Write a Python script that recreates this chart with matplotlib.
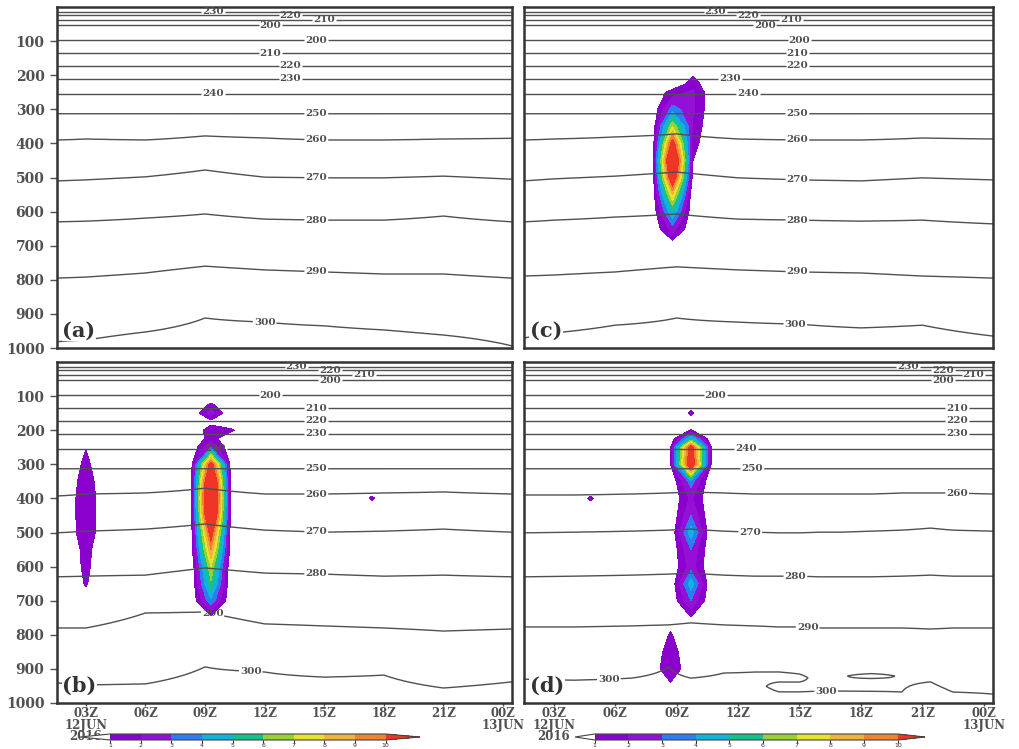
import numpy as np
import matplotlib
matplotlib.use("Agg")
import matplotlib.pyplot as plt
from matplotlib.colors import ListedColormap, BoundaryNorm
import matplotlib.cm as cm

# ---------------- axes / ticks ----------------
XLIM = (1.55, 24.45)
XTICKS = [3, 6, 9, 12, 15, 18, 21, 24]
XTICKLABELS = ["03Z\n12JUN\n2016", "06Z", "09Z", "12Z", "15Z", "18Z", "21Z", "00Z\n13JUN"]
YTICKS = [100, 200, 300, 400, 500, 600, 700, 800, 900, 1000]
YTICKLABELS = ["100", "200", "300", "400", "500", "600", "700", "800", "900", "1000"]

# ---------------- temperature (isotherm pressures, hPa) ----------------
CONTOUR_LEVELS = [200, 210, 220, 230, 240, 250, 260, 270, 280, 290, 300]
T_UP = [236, 230, 220, 210, 200, 195, 200, 210, 220, 230, 240, 250]
P_UP = [0, 14, 24, 38, 53, 75, 97, 135, 173, 211, 254, 313]
LOW_LEVELS = [260, 270, 280, 290, 300]
T_SFC = 303

TIMES_ABC = [1.55, 3, 6, 9, 12, 15, 18, 21, 24.45]

A_P260 = [390, 387, 390, 378, 384, 390, 390, 387, 385]
A_P270 = [510, 507, 498, 478, 499, 501, 501, 496, 505]
A_P280 = [630, 628, 619, 607, 622, 625, 625, 613, 630]
A_P290 = [795, 792, 780, 760, 771, 777, 783, 783, 795]
A_P300 = [982, 977, 953, 912, 924, 935, 947, 962, 994]

B_P260 = [393, 387, 384, 370, 387, 387, 384, 381, 387]
B_P270 = [501, 496, 490, 475, 493, 499, 496, 490, 499]
B_P280 = [630, 628, 625, 604, 619, 622, 628, 625, 630]
B_P290 = [780, 780, 736, 733, 768, 774, 780, 789, 783]
B_P300 = [941, 947, 944, 894, 909, 924, 918, 956, 938]

C_P260 = [390, 387, 381, 372, 387, 390, 390, 384, 387]
C_P270 = [510, 504, 496, 484, 501, 507, 510, 501, 507]
C_P280 = [630, 625, 616, 607, 622, 625, 628, 625, 636]
C_P290 = [789, 786, 777, 762, 771, 777, 780, 789, 795]
C_P300 = [971, 956, 933, 912, 924, 930, 941, 933, 965]

TIMES_D = [1.55, 4, 6.8, 8.6, 9.7, 11.3, 12.8, 14.0, 15.0, 16.0, 17.0, 18.5, 20.0, 21.4, 22.5, 24.45]
D_P260 = [390, 390, 387, 384, 381, 384, 387, 387, 387, 387, 387, 387, 384, 384, 384, 387]
D_P270 = [501, 499, 496, 493, 490, 496, 499, 501, 501, 499, 499, 496, 493, 487, 493, 496]
D_P280 = [630, 628, 625, 622, 619, 625, 628, 628, 628, 630, 630, 630, 628, 625, 628, 628]
D_P290 = [777, 777, 774, 771, 765, 771, 774, 777, 777, 780, 780, 780, 780, 783, 780, 780]
D_P300 = [930, 933, 927, 894, 927, 912, 909, 909, 915, 965, 965, 966, 968, 938, 968, 974]
# near-surface inversion points (column index -> (p, T) pairs)
D_EXTRA = {
    7: [(926, 301.5), (951, 298.5)],
    8: [(926, 301.5), (951, 298.5)],
    10: [(921, 299.4)],
    11: [(912, 299.5), (921, 302.0), (930, 299.5), (955, 299.7)],
    12: [(921, 299.4)],
}

# ---------------- shaded field (columns: time -> {p: value}) ----------------
SHADE_LEVELS = [1, 2, 3, 4, 5, 6, 7, 8, 9, 10]
SHADE_COLORS = ["#8a00cc", "#9410d6", "#2a7ff0", "#12b2e0", "#14c28a",
                "#96d232", "#e6e22e", "#f2b23c", "#f2822c"]
SHADE_OVER = "#ee3526"
P_SH = [0, 100, 125, 150, 175, 200, 225, 250, 300, 350, 400, 450, 500,
        550, 600, 650, 700, 750, 800, 850, 900, 950, 1000]

B_COLS = {
    3.0: {250: 0.95, 300: 1.3, 350: 1.7, 400: 2.0, 450: 2.0, 500: 1.9, 550: 1.4,
          600: 1.3, 650: 1.1, 700: 0.5},
    8.3: {300: 0.5, 350: 0.6, 400: 0.6, 450: 0.6, 500: 0.5, 550: 0.4},
    9.3: {125: 1.2, 150: 2.5, 175: 0.6, 200: 1.6, 225: 1.5, 250: 3, 300: 11, 350: 14,
          400: 15, 450: 14, 500: 11, 550: 9, 600: 7, 650: 5.8, 700: 3.8, 750: 0.6},
    10.3: {200: 1.2, 300: 0.5, 350: 0.6, 400: 0.6, 450: 0.6, 500: 0.5, 550: 0.4},
    17.4: {400: 1.15},
}
C_COLS = {
    8.8: {250: 1.5, 300: 3.5, 350: 7, 400: 11, 450: 14, 500: 12, 550: 8, 600: 5,
          650: 2.5, 700: 0.3},
    9.8: {200: 0.9, 225: 1.5, 250: 2.2, 300: 2.2, 350: 1.8, 400: 1.4, 450: 1.0, 500: 0.5},
}
D_COLS = {
    4.8: {400: 1.15},
    8.7: {250: 0.98, 300: 0.9, 750: 0.5, 800: 1.1, 850: 1.6, 900: 2.0, 950: 0.7},
    9.7: {125: 0.6, 150: 1.15, 175: 0.5, 200: 1.05, 225: 5, 250: 11, 300: 12, 350: 3.5,
          400: 2.2, 450: 3, 500: 4.6, 550: 3, 600: 2.5, 650: 4.6, 700: 3, 750: 0.9},
    10.7: {250: 0.98, 300: 0.9},
}

# ---------------- contour label anchor positions (time, p) ----------------
LAB_A = [(9.4, 14), (13.3, 24), (15.0, 38), (12.3, 53), (14.6, 97), (12.3, 135),
         (13.3, 173), (13.3, 211), (9.4, 254), (14.6, 313), (14.6, 388), (14.6, 500),
         (14.6, 622), (14.6, 776), (12.0, 924)]
LAB_B = [(13.6, 14), (15.3, 24), (17.0, 38), (15.3, 53), (12.3, 97), (14.6, 135),
         (14.6, 173), (14.6, 211), (9.5, 254), (14.6, 313), (14.6, 387), (14.6, 497),
         (14.6, 621), (9.4, 733), (11.3, 905)]
LAB_C = [(10.9, 14), (12.5, 24), (14.6, 38), (13.3, 53), (15.0, 97), (14.9, 135),
         (14.9, 173), (11.6, 211), (12.5, 254), (14.9, 313), (14.9, 389), (14.9, 505),
         (14.9, 624), (14.9, 776), (14.8, 928)]
LAB_D = [(20.3, 14), (22.0, 24), (23.5, 38), (22.0, 53), (10.9, 97), (22.7, 135),
         (22.7, 173), (22.7, 211), (12.4, 254), (12.7, 313), (22.7, 385), (12.6, 497),
         (14.8, 628), (15.4, 777), (5.7, 935), (16.3, 965)]

SERIF = "DejaVu Serif"
GREY = "#505050"
P_GRID = np.linspace(0, 1000, 801)


def temp_field(times, lows, extra=None):
    T = np.empty((len(P_GRID), len(times)))
    for i in range(len(times)):
        pairs = list(zip(P_UP, T_UP))
        pairs += [(arr[i], lev) for lev, arr in zip(LOW_LEVELS, lows)]
        if extra and i in extra:
            pairs += extra[i]
        pairs.append((1000.0, T_SFC))
        pairs.sort()
        xp, fp = zip(*pairs)
        T[:, i] = np.interp(P_GRID, xp, fp)
    return T


def shade_field(cols):
    ts = {XLIM[0], XLIM[1]}
    for tc in cols:
        ts.update([round(tc - 1, 2), round(tc, 2), round(tc + 1, 2)])
    ts = sorted(ts)
    Z = np.zeros((len(P_SH), len(ts)))
    for j, t in enumerate(ts):
        for tc, prof in cols.items():
            if abs(tc - t) < 1e-6:
                for p, v in prof.items():
                    Z[P_SH.index(p), j] = v
    return np.array(ts), Z


cmap = ListedColormap(SHADE_COLORS)
cmap.set_over(SHADE_OVER)
cmap.set_under("white")
norm = BoundaryNorm(SHADE_LEVELS, cmap.N)

fig = plt.figure(figsize=(10.2, 7.49), dpi=100)
W, H = 1020.0, 749.0


def add_ax(x0, y0, x1, y1):
    return fig.add_axes([x0 / W, 1 - y1 / H, (x1 - x0) / W, (y1 - y0) / H])


panels = [
    ("(a)", add_ax(57, 7, 512, 348), TIMES_ABC, [A_P260, A_P270, A_P280, A_P290, A_P300], None, None, LAB_A, True, False),
    ("(c)", add_ax(524, 7, 993, 348), TIMES_ABC, [C_P260, C_P270, C_P280, C_P290, C_P300], None, C_COLS, LAB_C, False, False),
    ("(b)", add_ax(57, 362, 512, 703), TIMES_ABC, [B_P260, B_P270, B_P280, B_P290, B_P300], None, B_COLS, LAB_B, True, True),
    ("(d)", add_ax(524, 362, 993, 703), TIMES_D, [D_P260, D_P270, D_P280, D_P290, D_P300], D_EXTRA, D_COLS, LAB_D, False, True),
]

for name, ax, times, lows, extra, cols, labs, ylab, xlab in panels:
    if cols is not None:
        ts, Z = shade_field(cols)
        ax.contourf(ts, P_SH, Z, levels=SHADE_LEVELS, cmap=cmap, norm=norm, extend="max")
    T = temp_field(times, lows, extra)
    cs = ax.contour(times, P_GRID, T, levels=CONTOUR_LEVELS, colors=GREY, linewidths=1.0)
    ax.set_xlim(*XLIM)
    ax.set_ylim(1000, 0)
    txts = ax.clabel(cs, fmt="%d", fontsize=7.5, inline=True, inline_spacing=2, manual=labs)
    for t in txts:
        t.set_family(SERIF)
        t.set_color(GREY)
        t.set_fontweight("bold")
        t.set_rotation(0)
    ax.text(0.012, 0.022, name, transform=ax.transAxes, fontsize=15, fontweight="bold",
            family=SERIF, color="#333333", ha="left", va="bottom",
            bbox=dict(fc="white", ec="none", pad=0.5))
    ax.set_xticks(XTICKS)
    ax.set_yticks(YTICKS)
    if ylab:
        ax.set_yticklabels(YTICKLABELS, family=SERIF, fontsize=10, color=GREY, fontweight="bold")
        ax.tick_params(axis="y", length=5, width=1, color=GREY, pad=4)
    else:
        ax.set_yticklabels([])
        ax.tick_params(axis="y", length=0)
    if xlab:
        ax.set_xticklabels(XTICKLABELS, family=SERIF, fontsize=8.5, color=GREY,
                           fontweight="bold", linespacing=0.85)
        ax.tick_params(axis="x", length=2, width=1, color=GREY, pad=1)
    else:
        ax.set_xticklabels([])
        ax.tick_params(axis="x", length=0)
    for sp in ax.spines.values():
        sp.set_color("#333333")
        sp.set_linewidth(1.8)

# colorbars
sm = cm.ScalarMappable(norm=norm, cmap=cmap)
for x0, x1, ef in [(80, 420, [0.11, 0.125]), (575, 925, [0.065, 0.09])]:
    cax = fig.add_axes([x0 / W, (H - 740) / H, (x1 - x0) / W, 6 / H])
    cb = fig.colorbar(sm, cax=cax, orientation="horizontal", extend="both", extendfrac=ef,
                      ticks=SHADE_LEVELS)
    cb.outline.set_edgecolor("#444444")
    cb.outline.set_linewidth(0.8)
    cb.ax.tick_params(labelsize=4.5, length=2, pad=0.5, colors="#333333")

fig.savefig("out.png", dpi=100)
